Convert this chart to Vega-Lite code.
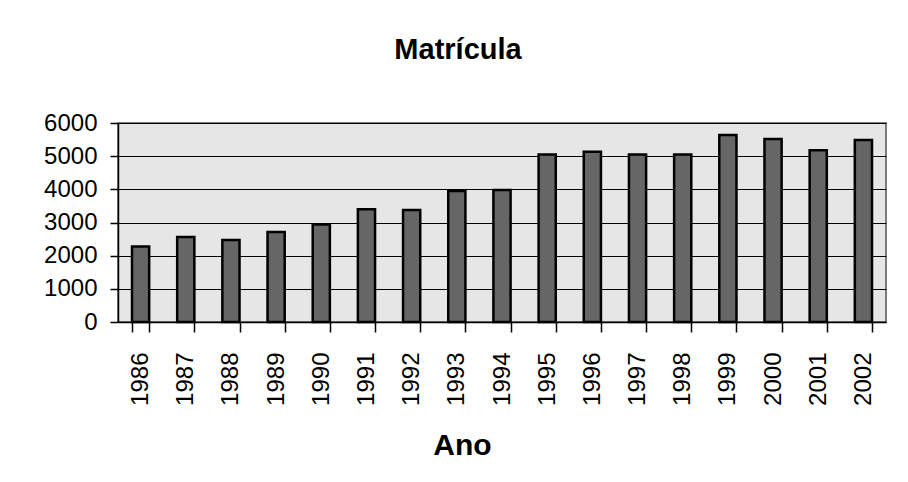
{
  "$schema": "https://vega.github.io/schema/vega-lite/v6.json",
  "width": 768,
  "height": 199,
  "autosize": "none",
  "padding": {"left": 118, "top": 123, "right": 22, "bottom": 160},
  "background": "white",
  "config": {
    "view": {"stroke": "#555555", "strokeWidth": 1.5, "fill": "#e6e6e6"},
    "font": "Liberation Sans"
  },
  "title": {
    "text": "Matrícula",
    "font": "Liberation Sans",
    "fontSize": 29,
    "fontWeight": "bold",
    "color": "black",
    "anchor": "middle",
    "offset": 46,
    "dx": -44
  },
  "data": {
    "values": [
      {"ano": "1986", "matricula": 2280},
      {"ano": "1987", "matricula": 2560},
      {"ano": "1988", "matricula": 2470},
      {"ano": "1989", "matricula": 2710},
      {"ano": "1990", "matricula": 2940},
      {"ano": "1991", "matricula": 3400},
      {"ano": "1992", "matricula": 3380},
      {"ano": "1993", "matricula": 3950},
      {"ano": "1994", "matricula": 3980},
      {"ano": "1995", "matricula": 5050},
      {"ano": "1996", "matricula": 5130},
      {"ano": "1997", "matricula": 5050},
      {"ano": "1998", "matricula": 5050},
      {"ano": "1999", "matricula": 5640},
      {"ano": "2000", "matricula": 5520},
      {"ano": "2001", "matricula": 5180},
      {"ano": "2002", "matricula": 5490}
    ]
  },
  "mark": {"type": "bar", "fill": "#666666", "stroke": "black", "strokeWidth": 2.5},
  "encoding": {
    "x": {
      "field": "ano",
      "type": "ordinal",
      "scale": {"paddingInner": 0.62, "paddingOuter": 0.31},
      "axis": {
        "title": "Ano",
        "labelAngle": -90,
        "labelFont": "Liberation Sans",
        "labelFontSize": 24,
        "labelColor": "black",
        "labelPadding": 20,
        "tickBand": "extent",
        "tickSize": 10,
        "tickColor": "black",
        "tickWidth": 1.5,
        "domainColor": "black",
        "domainWidth": 1.5,
        "titleFont": "Liberation Sans",
        "titleFontSize": 30,
        "titleFontWeight": "bold",
        "titleColor": "black",
        "titleX": 344,
        "titleY": 132,
        "titleAlign": "center",
        "titleBaseline": "alphabetic"
      }
    },
    "y": {
      "field": "matricula",
      "type": "quantitative",
      "scale": {"domain": [0, 6000], "nice": false},
      "axis": {
        "title": null,
        "values": [0, 1000, 2000, 3000, 4000, 5000, 6000],
        "format": "d",
        "labelFont": "Liberation Sans",
        "labelFontSize": 24,
        "labelColor": "black",
        "labelPadding": 13,
        "tickSize": 8,
        "tickColor": "black",
        "tickWidth": 1.5,
        "domainColor": "black",
        "domainWidth": 1.5,
        "gridColor": "black",
        "gridWidth": 1.2,
        "gridOpacity": 1
      }
    }
  }
}
